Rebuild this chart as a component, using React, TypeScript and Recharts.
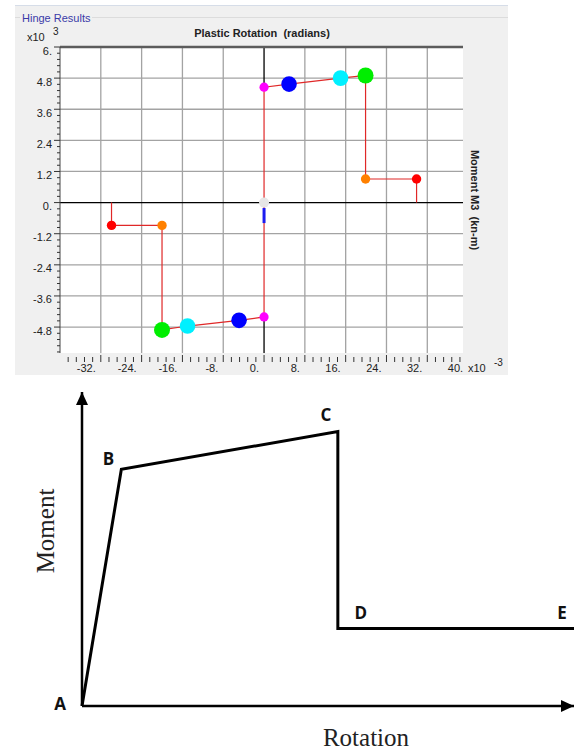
import React from 'react';
import {
  ComposedChart,
  LineChart,
  Line,
  Scatter,
  XAxis,
  YAxis,
  CartesianGrid,
  ReferenceLine,
  ReferenceDot,
  LabelList,
} from 'recharts';

// ---------- Top chart: Hinge Results ----------
const pointKeys = ['B', 'IO', 'LS', 'CP', 'D', 'E'];
const posRotation = [0, 4.9, 15.0, 19.9, 19.9, 29.9];
const posMoment = [4.45, 4.57, 4.8, 4.9, 0.91, 0.91];
const negRotation = [0, -4.9, -15.0, -20.0, -20.0, -29.9];
const negMoment = [-4.41, -4.54, -4.76, -4.91, -0.88, -0.88];
const currentStateSegment = [-0.21, -0.79];
const xMajorTicks = [-32, -24, -16, -8, 0, 8, 16, 24, 32, 40];
const yMajorTicks = [6, 4.8, 3.6, 2.4, 1.2, 0, -1.2, -2.4, -3.6, -4.8];
const xDomain = [-40, 39];
const yDomain = [-5.8, 6];

// ---------- Bottom chart: idealised backbone ----------
const backboneLabels = ['A', 'B', 'C', 'D', 'E'];
const backboneRotation = [0, 8, 52, 52, 100];
const backboneMoment = [0, 75.4, 87.4, 24.7, 24.7];

const FONT = '"Liberation Sans", Arial, sans-serif';
const SERIF = '"Liberation Serif", "Times New Roman", serif';

const round2 = (v: number) => Math.round(v * 100) / 100;
const isMajor = (v: number, list: number[]) => list.some((m) => Math.abs(m - v) < 1e-6);
const fmt = (v: number) => (Number.isInteger(v) ? `${v}.` : `${v}`);

const xAllTicks: number[] = [];
xMajorTicks.forEach((m, i) => {
  if (i === 0) for (let k = 4; k >= 1; k--) xAllTicks.push(round2(m - 1.6 * k));
  xAllTicks.push(m);
  if (i < xMajorTicks.length - 1) for (let k = 1; k <= 4; k++) xAllTicks.push(round2(m + 1.6 * k));
});
const yAllTicks: number[] = [];
yMajorTicks.forEach((m) => {
  yAllTicks.push(m);
  for (let k = 1; k <= 4; k++) yAllTicks.push(round2(m - 0.24 * k));
});

const hingePath = [
  { r: negRotation[5], m: 0 },
  ...[5, 4, 3, 2, 1, 0].map((i) => ({ r: negRotation[i], m: negMoment[i] })),
  { r: 0, m: 0 },
  ...[0, 1, 2, 3, 4, 5].map((i) => ({ r: posRotation[i], m: posMoment[i] })),
  { r: posRotation[5], m: 0 },
];

const currentStateData = currentStateSegment.map((m) => ({ r: 0, m }));

const hingeDots = [
  { r: 0, m: 0, key: 'A' },
  ...pointKeys.map((k, i) => ({ r: posRotation[i], m: posMoment[i], key: k })),
  ...pointKeys.map((k, i) => ({ r: negRotation[i], m: negMoment[i], key: k })),
];

const dotStyle: Record<string, { fill: string; r: number }> = {
  A: { fill: '#e6e6e6', r: 5 },
  B: { fill: '#ff00ff', r: 4.6 },
  IO: { fill: '#0000ff', r: 7.8 },
  LS: { fill: '#00f0ff', r: 7.8 },
  CP: { fill: '#00ee00', r: 8 },
  D: { fill: '#ff8000', r: 4.7 },
  E: { fill: '#ff0000', r: 4.7 },
};

const backboneData = backboneLabels.map((name, i) => ({
  name,
  r: backboneRotation[i],
  m: backboneMoment[i],
}));

const labelOffset: Record<string, [number, number]> = {
  A: [-22, 4],
  B: [-13, -4],
  C: [-12, -10.5],
  D: [23, -9.5],
  E: [-12, -9.5],
};

const XTick = (props: any) => {
  const { x, y, payload } = props;
  const v = payload.value as number;
  const major = isMajor(v, xMajorTicks);
  return (
    <g>
      {v <= xDomain[1] && (
        <line x1={x} x2={x} y1={y + (major ? 2 : 4)} y2={y + 9} stroke="#333" strokeWidth={1} />
      )}
      {major && (
        <text x={x - 5} y={y + 19} textAnchor="end" fontSize={11} fontFamily={FONT} fill="#222">
          {fmt(v)}
        </text>
      )}
    </g>
  );
};

const YTick = (props: any) => {
  const { x, y, payload } = props;
  const v = payload.value as number;
  const major = isMajor(v, yMajorTicks);
  return (
    <g>
      <line x1={x - (major ? 6 : 3)} x2={x} y1={y} y2={y} stroke="#333" strokeWidth={1} />
      {major && (
        <text x={x - 8} y={y + 7.5} textAnchor="end" fontSize={11} fontFamily={FONT} fill="#222">
          {fmt(v)}
        </text>
      )}
    </g>
  );
};

const HingeDot = (props: any) => {
  const st = dotStyle[props.payload?.key] || dotStyle.A;
  return <circle cx={props.cx} cy={props.cy} r={st.r} fill={st.fill} />;
};

const NoShape = () => <g />;

const ArrowRight = (props: any) => (
  <polygon
    points={`${props.cx},${props.cy} ${props.cx - 13},${props.cy - 6} ${props.cx - 13},${props.cy + 6}`}
    fill="#000"
  />
);
const ArrowUp = (props: any) => (
  <polygon
    points={`${props.cx},${props.cy} ${props.cx - 6},${props.cy + 13} ${props.cx + 6},${props.cy + 13}`}
    fill="#000"
  />
);

const PointLabel = (props: any) => {
  const { x, y, value } = props;
  const off = labelOffset[value] || [0, 0];
  return (
    <text
      x={x + off[0]}
      y={y + off[1]}
      textAnchor="middle"
      fontSize={17}
      fontWeight="bold"
      fontFamily='"Open Sans", "Liberation Sans", sans-serif'
      fill="#111"
    >
      {value}
    </text>
  );
};

export default function App() {
  return (
    <div style={{ position: 'absolute', left: 0, top: 0, width: 574, height: 753, background: '#fff' }}>
      {/* background panel + static texts */}
      <svg width={574} height={753} style={{ position: 'absolute', left: 0, top: 0 }}>
        <rect x={15} y={5} width={493} height={370} fill="#f0f0f0" />
        <line x1={15} x2={508} y1={5.5} y2={5.5} stroke="#d6dde8" strokeWidth={1} />
        <line x1={15} x2={508} y1={17.5} y2={17.5} stroke="#dcdcdc" strokeWidth={1} />
        <rect x={20} y={12} width={72} height={12} fill="#f0f0f0" />
        <text x={22} y={22} fontSize={11} fontFamily={FONT} fill="#3a3aa8">
          Hinge Results
        </text>
        <text x={262} y={36.5} textAnchor="middle" fontSize={11} fontWeight="bold" fontFamily={FONT} fill="#222">
          {'Plastic Rotation\u00a0 (radians)'}
        </text>
        <text x={27} y={40.5} fontSize={11} fontFamily={FONT} fill="#222">
          x10
        </text>
        <text x={53} y={35} fontSize={10} fontFamily={FONT} fill="#222">
          3
        </text>
        <text x={468} y={372} fontSize={11} fontFamily={FONT} fill="#222">
          x10
        </text>
        <text x={494} y={365.5} fontSize={10} fontFamily={FONT} fill="#222">
          -3
        </text>
        <text
          x={0}
          y={0}
          transform="translate(471,200) rotate(90)"
          textAnchor="middle"
          fontSize={11}
          fontWeight="bold"
          fontFamily={FONT}
          fill="#222"
        >
          {'Moment M3\u00a0 (kn-m)'}
        </text>
        <text
          x={0}
          y={0}
          transform="translate(54,531) rotate(-90)"
          textAnchor="middle"
          fontSize={25}
          fontFamily={SERIF}
          fill="#222"
        >
          Moment
        </text>
        <text x={366} y={746} textAnchor="middle" fontSize={25} fontFamily={SERIF} fill="#222">
          Rotation
        </text>
      </svg>

      <div style={{ position: 'absolute', left: 0, top: 0 }}>
        <ComposedChart width={574} height={380} margin={{ top: 47, right: 111, bottom: 7, left: 20 }}>
          <CartesianGrid
            fill="#ffffff"
            stroke="#a3a3a3"
            strokeWidth={1.3}
            verticalValues={xMajorTicks.filter((v) => v > xDomain[0] && v < xDomain[1] && v !== 0)}
            horizontalValues={yMajorTicks.filter((v) => v > yDomain[0] && v < yDomain[1] && v !== 0)}
          />
          <XAxis
            type="number"
            dataKey="r"
            domain={xDomain}
            ticks={xAllTicks}
            interval={0}
            allowDataOverflow
            tickSize={0}
            tickMargin={0}
            axisLine={false}
            tickLine={false}
            tick={<XTick />}
            height={20}
          />
          <YAxis
            type="number"
            dataKey="m"
            domain={yDomain}
            ticks={yAllTicks}
            interval={0}
            allowDataOverflow
            tickSize={0}
            tickMargin={0}
            axisLine={{ stroke: '#444', strokeWidth: 1 }}
            tickLine={false}
            tick={<YTick />}
            width={40}
          />
          <ReferenceLine y={0} stroke="#000" strokeWidth={1.3} />
          <ReferenceLine
            segment={[
              { x: 0, y: yDomain[1] },
              { x: 0, y: posMoment[0] },
            ]}
            stroke="#000"
            strokeWidth={1.3}
          />
          <ReferenceLine
            segment={[
              { x: 0, y: negMoment[0] },
              { x: 0, y: yDomain[0] },
            ]}
            stroke="#000"
            strokeWidth={1.3}
          />
          <ReferenceLine y={yDomain[1]} stroke="#5c5c5c" strokeWidth={2.5} />
          <Scatter
            data={hingePath}
            line={{ stroke: '#e02828', strokeWidth: 1.2 }}
            lineType="joint"
            shape={<NoShape />}
            isAnimationActive={false}
          />
          <Scatter
            data={currentStateData}
            line={{ stroke: '#1c1cf0', strokeWidth: 3 }}
            lineType="joint"
            shape={<NoShape />}
            isAnimationActive={false}
          />
          <Scatter data={hingeDots} shape={<HingeDot />} isAnimationActive={false} />
        </ComposedChart>
      </div>

      <div style={{ position: 'absolute', left: 0, top: 380 }}>
        <LineChart width={574} height={373} margin={{ top: 12, right: 0, bottom: 47, left: 82 }} data={backboneData}>
          <XAxis type="number" dataKey="r" domain={[0, 100]} hide />
          <YAxis type="number" dataKey="m" domain={[0, 100]} hide />
          <ReferenceLine x={0} stroke="#000" strokeWidth={2.5} ifOverflow="visible" />
          <ReferenceLine y={0} stroke="#000" strokeWidth={2.5} ifOverflow="visible" />
          <Line
            type="linear"
            dataKey="m"
            stroke="#000"
            strokeWidth={3}
            strokeLinejoin="miter"
            dot={false}
            isAnimationActive={false}
          >
            <LabelList dataKey="name" content={<PointLabel />} />
          </Line>
          <ReferenceDot x={100} y={0} ifOverflow="visible" shape={<ArrowRight />} />
          <ReferenceDot x={0} y={100} ifOverflow="visible" shape={<ArrowUp />} />
        </LineChart>
      </div>
    </div>
  );
}
